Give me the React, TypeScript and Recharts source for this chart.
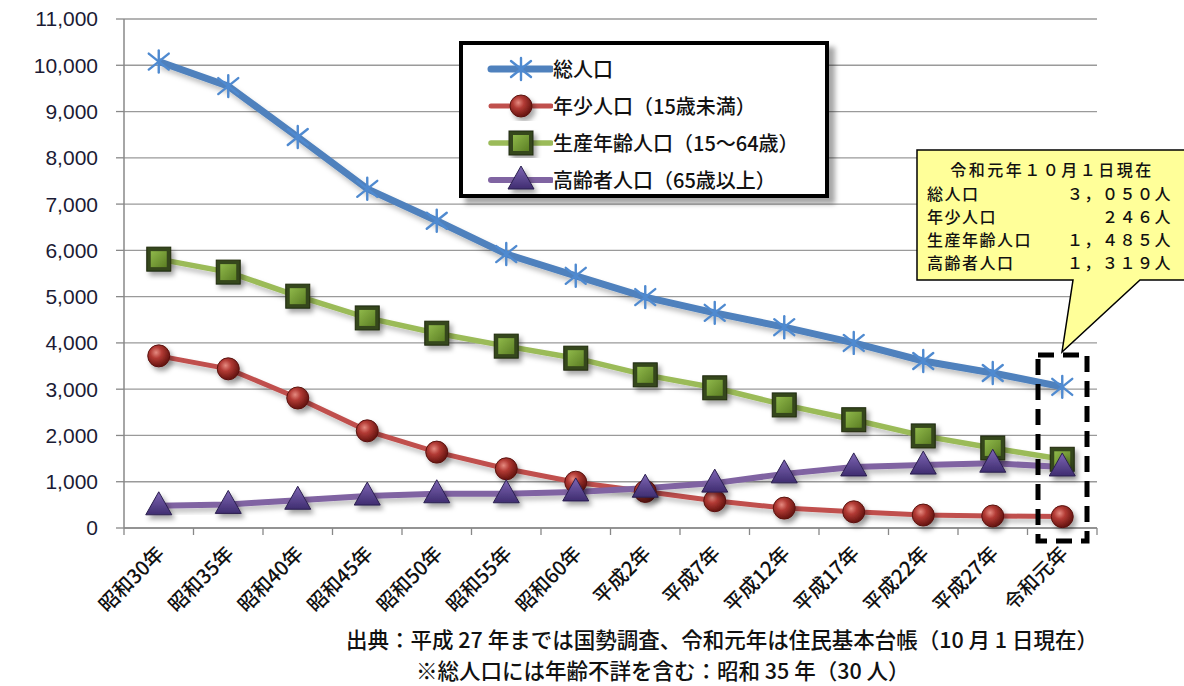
import { CartesianGrid, Legend, Line, LineChart, XAxis, YAxis } from 'recharts'

const years = [
  '昭和30年', '昭和35年', '昭和40年', '昭和45年', '昭和50年', '昭和55年', '昭和60年',
  '平成2年', '平成7年', '平成12年', '平成17年', '平成22年', '平成27年', '令和元年',
]
const total = [10080, 9550, 8450, 7330, 6640, 5920, 5450, 4990, 4650, 4340, 4000, 3610, 3350, 3050]
const young = [3720, 3440, 2810, 2100, 1640, 1280, 990, 790, 590, 430, 350, 280, 260, 246]
const working = [5810, 5530, 5010, 4540, 4210, 3930, 3670, 3310, 3030, 2660, 2340, 1990, 1730, 1485]
const elderly = [480, 510, 600, 690, 740, 740, 780, 860, 970, 1170, 1320, 1360, 1400, 1319]
const yTicks = [0, 1000, 2000, 3000, 4000, 5000, 6000, 7000, 8000, 9000, 10000, 11000]

const noteRows = [
  ['総人口', '３，０５０人'],
  ['年少人口', '２４６人'],
  ['生産年齢人口', '１，４８５人'],
  ['高齢者人口', '１，３１９人'],
]

const data = years.map((year, i) => ({
  year,
  total: total[i],
  young: young[i],
  working: working[i],
  elderly: elderly[i],
}))

const JP = '"Noto Sans CJK JP", "Noto Sans", sans-serif'
const PLOT_LEFT = 124
const PLOT_RIGHT = 1097
const BAND = (PLOT_RIGHT - PLOT_LEFT) / years.length

const Star = ({ cx, cy }: { cx: number; cy: number }) => (
  <g stroke="#4f8ad0" strokeWidth={2.4} strokeLinecap="round">
    <line x1={cx} y1={cy - 11} x2={cx} y2={cy + 11} />
    <line x1={cx - 10} y1={cy - 8} x2={cx + 10} y2={cy + 8} />
    <line x1={cx - 10} y1={cy + 8} x2={cx + 10} y2={cy - 8} />
  </g>
)

const Ball = ({ cx, cy }: { cx: number; cy: number }) => (
  <circle cx={cx} cy={cy} r={11} fill="url(#ballGrad)" stroke="#5a1210" strokeWidth={1} filter="url(#ds)" />
)

const Square = ({ cx, cy }: { cx: number; cy: number }) => (
  <g filter="url(#ds)">
    <rect x={cx - 12} y={cy - 12} width={24} height={24} fill="#34461a" stroke="#1f2a0e" strokeWidth={1} />
    <rect x={cx - 8} y={cy - 8} width={16} height={16} fill="url(#sqGrad)" />
  </g>
)

const Triangle = ({ cx, cy }: { cx: number; cy: number }) => (
  <polygon
    points={`${cx},${cy - 14} ${cx + 13},${cy + 9} ${cx - 13},${cy + 9}`}
    fill="url(#triGrad)"
    stroke="#2b1f4f"
    strokeWidth={1}
    filter="url(#ds)"
  />
)

const series = [
  { key: 'total', name: '総人口', color: '#4F81BD', width: 7, Marker: Star },
  { key: 'young', name: '年少人口（15歳未満）', color: '#C0504D', width: 5, Marker: Ball },
  { key: 'working', name: '生産年齢人口（15～64歳）', color: '#9BBB59', width: 5.5, Marker: Square },
  { key: 'elderly', name: '高齢者人口（65歳以上）', color: '#8064A2', width: 6, Marker: Triangle },
]

const XTick = (props: any) => {
  const { x, y, payload, index } = props
  const edge = x - BAND / 2
  return (
    <g>
      <line x1={edge} y1={y} x2={edge} y2={y + 7} stroke="#888" strokeWidth={1.3} />
      {index === years.length - 1 && (
        <line x1={x + BAND / 2} y1={y} x2={x + BAND / 2} y2={y + 7} stroke="#888" strokeWidth={1.3} />
      )}
      <text
        x={x + 2}
        y={y + 22}
        dy="0.35em"
        textAnchor="end"
        transform={`rotate(-45 ${x + 2} ${y + 22})`}
        fontSize={20}
        fontFamily={JP}
        fontWeight={500}
        fill="#111"
      >
        {payload.value}
      </text>
    </g>
  )
}

const LegendBox = () => (
  <div
    style={{
      width: 362,
      height: 144,
      border: '4px solid #000',
      background: '#fff',
      boxShadow: '6px 6px 5px rgba(0,0,0,0.35)',
      fontFamily: JP,
      fontSize: 20,
      fontWeight: 500,
      color: '#111',
      paddingTop: 5,
      boxSizing: 'content-box',
    }}
  >
    {series.map(({ key, name, color, width, Marker }) => (
      <div key={key} style={{ display: 'flex', alignItems: 'center', height: 37 }}>
        <svg width={90} height={30} style={{ flex: 'none' }}>
          <line x1={28} y1={15} x2={88} y2={15} stroke={color} strokeWidth={width} strokeLinecap="round" />
          <Marker cx={58} cy={15} />
        </svg>
        <span style={{ whiteSpace: 'nowrap' }}>{name}</span>
      </div>
    ))}
  </div>
)

export default function App() {
  return (
    <div style={{ position: 'absolute', left: 0, top: 0, width: 1184, height: 686, background: '#fff' }}>
      <svg width={0} height={0} style={{ position: 'absolute' }}>
        <defs>
          <filter id="ds" x="-50%" y="-50%" width="200%" height="200%">
            <feDropShadow dx={3} dy={4} stdDeviation={2.5} floodColor="#000" floodOpacity={0.35} />
          </filter>
          <filter id="ls" x="-5%" y="-20%" width="110%" height="140%">
            <feDropShadow dx={2} dy={4} stdDeviation={2.5} floodColor="#000" floodOpacity={0.25} />
          </filter>
          <radialGradient id="ballGrad" cx="38%" cy="35%" r="65%">
            <stop offset="0%" stopColor="#e58a80" />
            <stop offset="40%" stopColor="#b23a34" />
            <stop offset="100%" stopColor="#651410" />
          </radialGradient>
          <linearGradient id="sqGrad" x1="0" y1="0" x2="1" y2="1">
            <stop offset="0%" stopColor="#8fb84a" />
            <stop offset="100%" stopColor="#5c7f24" />
          </linearGradient>
          <linearGradient id="triGrad" x1="0" y1="0" x2="0" y2="1">
            <stop offset="0%" stopColor="#7e66b4" />
            <stop offset="100%" stopColor="#3f2d70" />
          </linearGradient>
        </defs>
      </svg>
      <LineChart width={1184} height={686} data={data} margin={{ top: 19, right: 1184 - PLOT_RIGHT, bottom: 0, left: 0 }}>
        <CartesianGrid vertical={false} stroke="#9a9a9a" strokeWidth={1.3} />
        <XAxis
          dataKey="year"
          height={158}
          interval={0}
          padding={{ left: BAND / 2, right: BAND / 2 }}
          tickLine={false}
          tickSize={0}
          tickMargin={0}
          axisLine={{ stroke: '#888', strokeWidth: 1.3 }}
          tick={<XTick />}
        />
        <YAxis
          width={PLOT_LEFT}
          domain={[0, 11000]}
          ticks={yTicks}
          interval={0}
          tickSize={8}
          tickMargin={18}
          tickLine={{ stroke: '#888', strokeWidth: 1.3 }}
          axisLine={{ stroke: '#888', strokeWidth: 1.5 }}
          tickFormatter={(v: number) => v.toLocaleString('en-US')}
          tick={{ fill: '#1b1b35', fontSize: 21, fontFamily: '"Liberation Sans", Arial, sans-serif' }}
        />
        <Legend
          layout="horizontal"
          verticalAlign="middle"
          align="center"
          content={<LegendBox />}
          wrapperStyle={{ position: 'absolute', left: 459, top: 41, width: 370, height: 152 }}
        />
        {series.map(({ key, name, color, width, Marker }) => (
          <Line
            key={key}
            dataKey={key}
            name={name}
            stroke={color}
            strokeWidth={width}
            filter="url(#ls)"
            isAnimationActive={false}
            dot={(p: any) => <Marker key={p.index} cx={p.cx} cy={p.cy} />}
            activeDot={false}
          />
        ))}
      </LineChart>
      <svg width={1184} height={686} style={{ position: 'absolute', left: 0, top: 0, pointerEvents: 'none' }}>
        <rect x={1038} y={355} width={49} height={186} fill="none" stroke="#000" strokeWidth={5} strokeDasharray="16 9" />
        <path
          d="M917,150 H1190 V280 H1140 L1062,352 L1073,280 H917 Z"
          fill="#FFFF99"
          stroke="#000"
          strokeWidth={1.5}
        />
        <g fontFamily={JP} fontSize={16} fontWeight={500} fill="#111">
          <text x={1052} y={176} textAnchor="middle" letterSpacing={2.5}>令和元年１０月１日現在</text>
          {noteRows.map(([label, value], i) => (
            <g key={label}>
              <text x={927} y={200 + i * 23} letterSpacing={1.5}>{label}</text>
              <text x={1172} y={200 + i * 23} textAnchor="end" letterSpacing={1.5}>{value}</text>
            </g>
          ))}
        </g>
        <g fontFamily={JP} fontSize={21.5} fontWeight={500} fill="#111">
          <text x={346} y={648}>出典：平成 27 年までは国勢調査、令和元年は住民基本台帳（10 月 1 日現在）</text>
          <text x={416} y={679}>※総人口には年齢不詳を含む：昭和 35 年（30 人）</text>
        </g>
      </svg>
    </div>
  )
}
